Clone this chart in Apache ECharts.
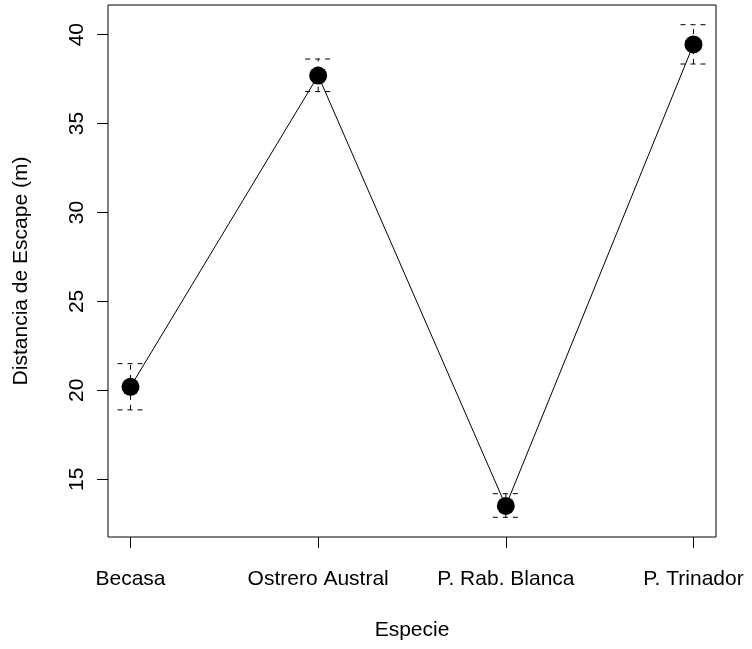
<!DOCTYPE html>
<html>
<head>
<meta charset="utf-8">
<script src="https://cdn.jsdelivr.net/npm/echarts@6/dist/echarts.min.js"></script>
<style>html,body{margin:0;padding:0;background:#fff}#c{width:752px;height:649px}</style>
</head>
<body>
<div id="c"></div>
<script>
const categories = ['Becasa', 'Ostrero Austral', 'P. Rab. Blanca', 'P. Trinador'];
const means = [20.2, 37.7, 13.5, 39.45];
const lowerCI = [18.9, 36.8, 12.86, 38.35];
const upperCI = [21.5, 38.63, 14.19, 40.56];
const yTicks = [15, 20, 25, 30, 35, 40];

const xs = categories.map((c, i) => i + 1);
const lo = Math.min(...lowerCI), hi = Math.max(...upperCI);
const pad = (hi - lo) * 0.04;
const xpad = (xs.length - 1) * 0.04;

const pointData = xs.map((x, i) => [x, means[i]]);
const ciData = xs.map((x, i) => [x, lowerCI[i], upperCI[i]]);

const chart = echarts.init(document.getElementById('c'), null, {renderer: 'canvas'});
const FONT = 'Liberation Sans, Arial, Helvetica, sans-serif';
chart.setOption({
  animation: false,
  backgroundColor: '#fff',
  grid: {left: 108, top: 5, right: 36, bottom: 112, show: true, borderColor: '#000', borderWidth: 1, backgroundColor: 'transparent'},
  xAxis: {
    type: 'value', min: 1 - xpad, max: xs.length + xpad,
    name: 'Especie', nameLocation: 'middle', nameGap: 83,
    nameTextStyle: {fontFamily: FONT, fontSize: 21, color: '#000'},
    axisLine: {show: false},
    splitLine: {show: false},
    axisTick: {show: true, length: 11, lineStyle: {color: '#000', width: 1}, customValues: xs},
    axisLabel: {show: true, margin: 32, fontFamily: FONT, fontSize: 21, color: '#000', customValues: xs,
      formatter: v => categories[Math.round(v) - 1] || ''}
  },
  yAxis: {
    type: 'value', min: lo - pad, max: hi + pad,
    name: 'Distancia de Escape (m)', nameLocation: 'middle', nameGap: 76, nameRotate: 90,
    nameTextStyle: {fontFamily: FONT, fontSize: 21, color: '#000'},
    axisLine: {show: false},
    splitLine: {show: false},
    axisTick: {show: true, length: 11, lineStyle: {color: '#000', width: 1}, customValues: yTicks},
    axisLabel: {show: true, rotate: 90, margin: 20, fontFamily: FONT, fontSize: 21, color: '#000', customValues: yTicks}
  },
  series: [
    {
      type: 'custom',
      data: ciData,
      z: 1,
      renderItem: function (params, api) {
        const x = api.value(0);
        const pLo = api.coord([x, api.value(1)]);
        const pHi = api.coord([x, api.value(2)]);
        const hw = 13;
        const style = {stroke: '#000', lineWidth: 1, lineDash: [5, 5]};
        return {
          type: 'group',
          children: [
            {type: 'line', shape: {x1: pLo[0], y1: pLo[1], x2: pHi[0], y2: pHi[1]}, style: style},
            {type: 'line', shape: {x1: pLo[0] - hw, y1: pLo[1], x2: pLo[0] + hw, y2: pLo[1]}, style: style},
            {type: 'line', shape: {x1: pHi[0] - hw, y1: pHi[1], x2: pHi[0] + hw, y2: pHi[1]}, style: style}
          ]
        };
      }
    },
    {
      type: 'line',
      data: pointData,
      z: 2,
      symbol: 'circle',
      symbolSize: 18,
      itemStyle: {color: '#000'},
      lineStyle: {color: '#000', width: 1}
    }
  ]
});
</script>
</body>
</html>
